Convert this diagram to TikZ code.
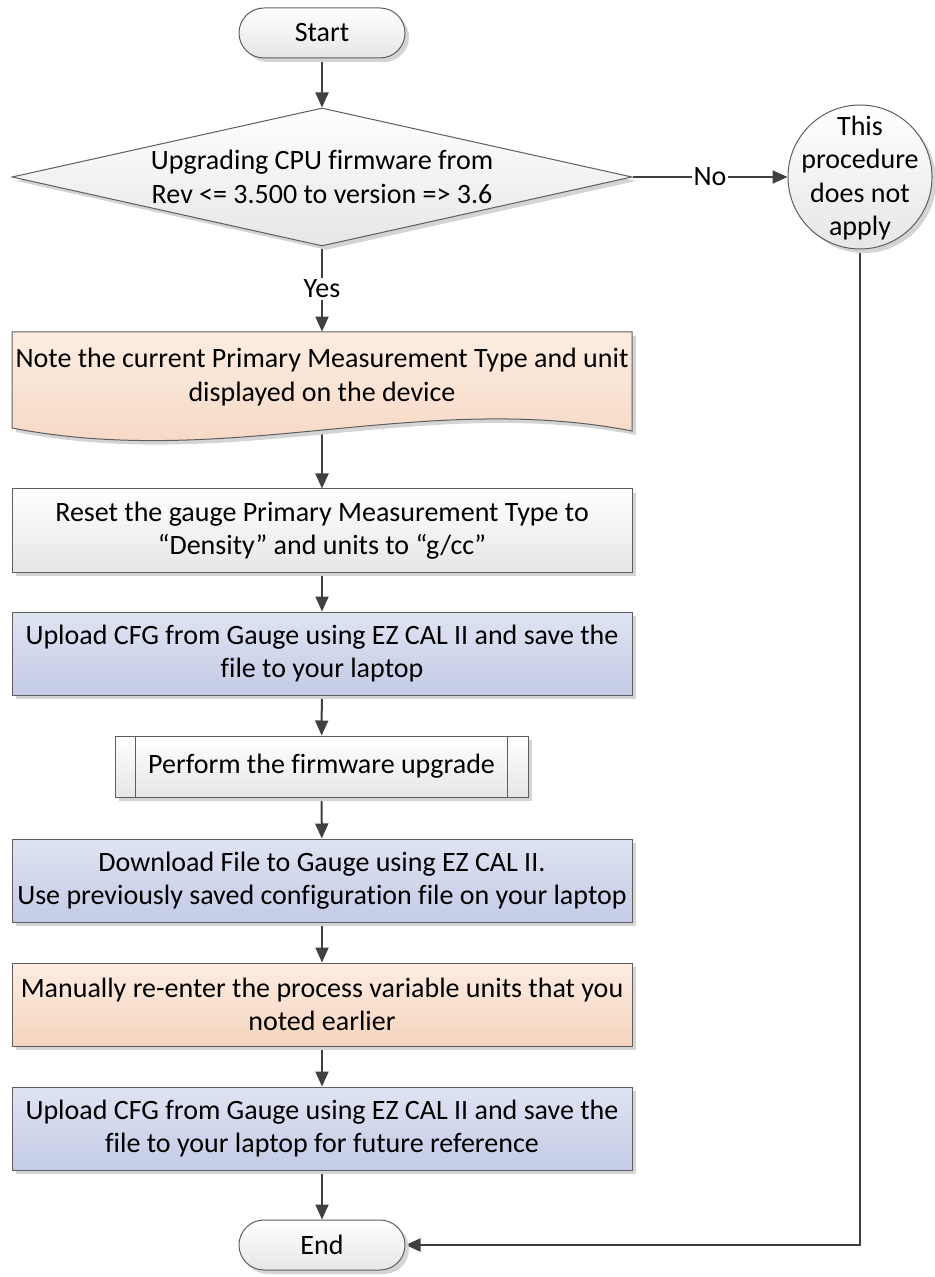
\documentclass[tikz,border=0pt]{standalone}
\usepackage{fontspec}
\setmainfont{Carlito}[Ligatures={NoCommon}]
\usetikzlibrary{shapes.geometric,arrows.meta,shadows}
\definecolor{bord}{HTML}{5E5E5E}
\definecolor{lineclr}{HTML}{404040}
\definecolor{orT}{HTML}{FCEDE2}
\definecolor{orB}{HTML}{F5D4BE}
\definecolor{blT}{HTML}{DFE4F2}
\definecolor{blB}{HTML}{C3CBE6}
\definecolor{grT}{HTML}{FFFFFF}
\definecolor{grB}{HTML}{E6E6E6}
\definecolor{shd}{HTML}{D4D4D4}
\pgfdeclarelayer{background}
\pgfsetlayers{background,main}
\begin{document}
\begin{tikzpicture}[x=0.5pt,y=-0.5pt,
 font=\fontsize{14pt}{16.75pt}\selectfont,
 shad/.style={drop shadow={shadow xshift=2pt,shadow yshift=-2pt,fill=shd,opacity=1}},
 base/.style={draw=bord,line width=0.5pt,shad,align=center,inner sep=0pt},
 grayfill/.style={top color=grT,bottom color=grB},
 orangefill/.style={top color=orT,bottom color=orB},
 bluefill/.style={top color=blT,bottom color=blB},
 procbox/.style={base,rectangle,minimum width=310pt,minimum height=41.5pt},
 termbox/.style={base,grayfill,rectangle,rounded corners=12.5pt,minimum width=83pt,minimum height=25pt},
 plaintext/.style={align=center,inner sep=0pt},
 conn/.style={draw=lineclr,line width=1pt},
 arr/.style={conn,-{Triangle[length=7.5pt,width=6.5pt]}},
 lbl/.style={fill=white,inner sep=1pt}
]
\useasboundingbox (0,0) rectangle (935,1277);

% Start
\node[termbox] (start) at (322,33) {Start};

% Decision
\node[base,grayfill,diamond,minimum width=310pt,minimum height=69pt] (dec) at (322,177) {};
\node[plaintext] (dectext) at (322,177) {Upgrading CPU firmware from\\Rev <= 3.500 to version => 3.6};

% Circle
\node[base,grayfill,circle,minimum size=72pt] (na) at (860,177) {};
\node[plaintext] (natext) at (860,178) {This\\procedure\\does not\\apply};

% Document shape
\fill[shd] (16,336) -- (636,336) -- (636,435) .. controls (424,394) and (234,474) .. (16,432) -- cycle;
\path[draw=bord,line width=0.5pt,top color=orT,bottom color=orB]
  (12,332) -- (632,332) -- (632,431) .. controls (420,390) and (230,470) .. (12,428) -- cycle;
\node[plaintext,minimum width=310pt,minimum height=45pt] (doc) at (322,377)
  {Note the current Primary Measurement Type and unit\\displayed on the device};

% Process boxes
\node[procbox,grayfill] (b2) at (322,530.5) {Reset the gauge Primary Measurement Type to\\“Density” and units to “g/cc”};
\node[procbox,bluefill] (b3) at (322,653.5) {Upload CFG from Gauge using EZ CAL II and save the\\file to your laptop};
\node[base,grayfill,rectangle,minimum width=206.5pt,minimum height=30.5pt] (b4) at (321.5,766.5) {Perform the firmware upgrade};
\draw[draw=bord,line width=0.5pt] ([xshift=10.5pt]b4.north west) -- ([xshift=10.5pt]b4.south west);
\draw[draw=bord,line width=0.5pt] ([xshift=-10.5pt]b4.north east) -- ([xshift=-10.5pt]b4.south east);
\node[procbox,bluefill] (b5) at (322,880.5) {Download File to Gauge using EZ CAL II.\\Use previously saved configuration file on your laptop};
\node[procbox,orangefill] (b6) at (322,1004.5) {Manually re-enter the process variable units that you\\noted earlier};
\node[procbox,bluefill] (b7) at (322,1128.5) {Upload CFG from Gauge using EZ CAL II and save the\\file to your laptop for future reference};

% End
\node[termbox] (endn) at (322,1245) {End};

% Connectors
\begin{pgfonlayer}{background}
\draw[arr] (start) -- (dec);
\draw[arr] (dec) -- node[lbl] {Yes} (doc);
\draw[arr] (dec) -- node[lbl] {No} (na);
\draw[arr] (doc) -- (b2);
\draw[arr] (b2) -- (b3);
\draw[arr] (b3) -- (b4);
\draw[arr] (b4) -- (b5);
\draw[arr] (b5) -- (b6);
\draw[arr] (b6) -- (b7);
\draw[arr] (b7) -- (endn);
\draw[arr] (na.south) |- (endn.east);
\end{pgfonlayer}
\end{tikzpicture}
\end{document}
